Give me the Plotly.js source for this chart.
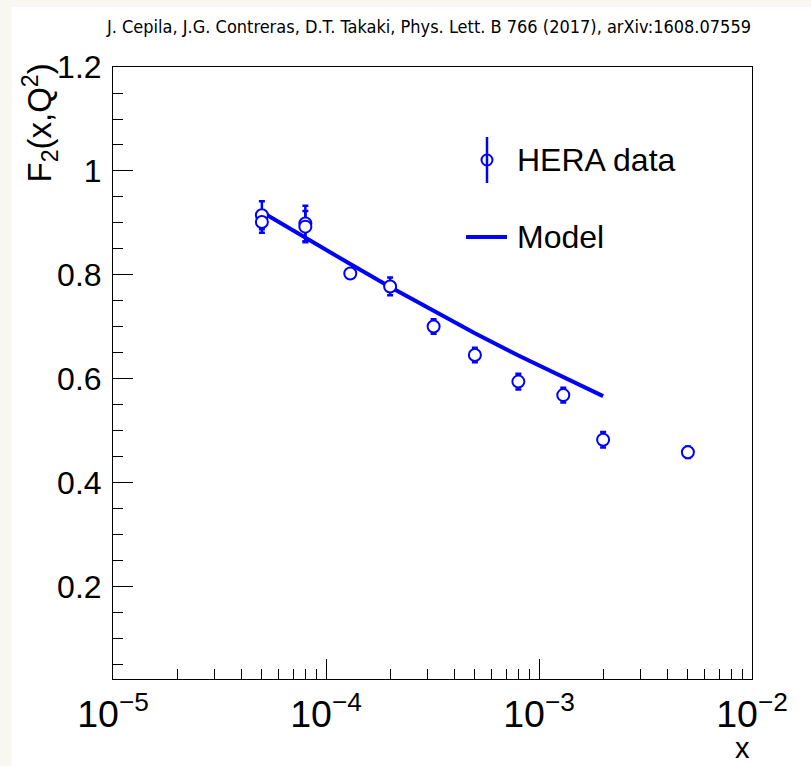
<!DOCTYPE html>
<html>
<head>
<meta charset="utf-8">
<script src="https://cdn.plot.ly/plotly-3.0.1.min.js"></script>
<style>
  html, body { margin: 0; padding: 0; background: #f8f8f0; width: 811px; height: 766px; overflow: hidden; }
  #plot { position: absolute; left: 12px; top: 7px; width: 799px; height: 759px; }
</style>
</head>
<body>
<div id="plot"></div>
<script>
// HERA data
const xData = [5e-5, 5e-5, 8e-5, 8e-5, 1.3e-4, 2e-4, 3.2e-4, 5e-4, 8e-4, 1.3e-3, 2e-3, 5e-3];
const f2Data = [0.915, 0.902, 0.899, 0.893, 0.803, 0.778, 0.701, 0.646, 0.595, 0.569, 0.483, 0.459];
const f2Err = [0.027, 0.021, 0.034, 0.030, 0.008, 0.017, 0.014, 0.014, 0.015, 0.014, 0.015, 0.011];

// Model
const xModel = [5e-5, 8e-5, 1.3e-4, 2e-4, 3.2e-4, 5e-4, 8e-4, 1.3e-3, 2e-3];
const f2Model = [0.921, 0.871, 0.821, 0.777, 0.731, 0.688, 0.645, 0.603, 0.567];

// Labels
const legendLabels = ["HERA data", "Model"];
const citation = "J. Cepila, J.G. Contreras, D.T. Takaki, Phys. Lett. B 766 (2017), arXiv:1608.07559";

const blue = "#0000ff";
const fontFam = "Liberation Sans, Arial, Helvetica, sans-serif";

const traces = [
  {
    x: xModel, y: f2Model, type: "scatter", mode: "lines",
    line: { color: blue, width: 4 }, name: legendLabels[1], showlegend: false,
    hoverinfo: "skip"
  },
  {
    x: xData, y: f2Data, type: "scatter", mode: "markers",
    marker: { symbol: "circle", size: 12, color: "white", line: { color: blue, width: 2 } },
    error_y: { type: "data", array: f2Err, visible: true, color: blue, thickness: 2.5, width: 3 },
    name: legendLabels[0], showlegend: false
  }
];

// plot area mapping helpers (pixel -> paper), used only for legend decoration
const L = 113, R = 752, T = 67, B = 679;
const px = v => (v - L) / (R - L);
const py = v => (B - v) / (B - T);

const layout = {
  width: 799, height: 759,
  margin: { l: 101, r: 59, t: 60, b: 87 },
  paper_bgcolor: "white", plot_bgcolor: "white",
  showlegend: false,
  font: { family: fontFam, color: "black", size: 32 },
  xaxis: {
    type: "log", range: [-5, -2], dtick: 1, exponentformat: "power",
    showgrid: false, zeroline: false,
    showline: true, linecolor: "black", linewidth: 1, mirror: true,
    ticks: "inside", ticklen: 20, tickwidth: 1, tickcolor: "black",
    tickfont: { family: fontFam, size: 30, color: "black" },
    ticklabelstandoff: 3,
    minor: { ticks: "inside", ticklen: 10, tickwidth: 1, tickcolor: "black", dtick: "D1", showgrid: false }
  },
  yaxis: {
    range: [0.023, 1.2], tick0: 0, dtick: 0.2,
    showgrid: false, zeroline: false,
    showline: true, linecolor: "black", linewidth: 1, mirror: true,
    ticks: "inside", ticklen: 20, tickwidth: 1, tickcolor: "black",
    tickfont: { family: fontFam, size: 32, color: "black" },
    ticklabelstandoff: 4,
    minor: { ticks: "inside", ticklen: 10, tickwidth: 1, tickcolor: "black", dtick: 0.05, showgrid: false }
  },
  annotations: [
    { text: citation, xref: "paper", yref: "paper", x: px(428), y: py(26), xanchor: "center", yanchor: "middle",
      showarrow: false, font: { family: "Liberation Sans Narrow, DejaVu Sans Condensed, sans-serif", size: 18, color: "black" } },
    { text: "F<sub>2</sub>(x,Q<sup>2</sup>)", xref: "paper", yref: "paper", x: px(40), y: py(62), xanchor: "center", yanchor: "top",
      textangle: -90, showarrow: false, font: { family: fontFam, size: 33, color: "black" } },
    { text: "x", xref: "paper", yref: "paper", x: px(742), y: py(748), xanchor: "center", yanchor: "middle",
      borderpad: 0, showarrow: false, font: { family: fontFam, size: 29, color: "black" } },
    { text: legendLabels[0], xref: "paper", yref: "paper", x: px(515), y: py(160), xanchor: "left", yanchor: "middle",
      showarrow: false, font: { family: fontFam, size: 32, color: "black" } },
    { text: legendLabels[1], xref: "paper", yref: "paper", x: px(515), y: py(237), xanchor: "left", yanchor: "middle",
      showarrow: false, font: { family: fontFam, size: 32, color: "black" } }
  ],
  shapes: [
    { type: "line", xref: "paper", yref: "paper", x0: px(487), x1: px(487), y0: py(137), y1: py(183),
      line: { color: blue, width: 2.5 } },
    { type: "circle", xref: "paper", yref: "paper", x0: px(481.5), x1: px(492.5), y0: py(154.5), y1: py(165.5),
      line: { color: blue, width: 2 }, fillcolor: "rgba(0,0,0,0)" },
    { type: "line", xref: "paper", yref: "paper", x0: px(466), x1: px(507), y0: py(237), y1: py(237),
      line: { color: blue, width: 4 } }
  ]
};

Plotly.newPlot("plot", traces, layout, { staticPlot: true, displayModeBar: false });
</script>
</body>
</html>
